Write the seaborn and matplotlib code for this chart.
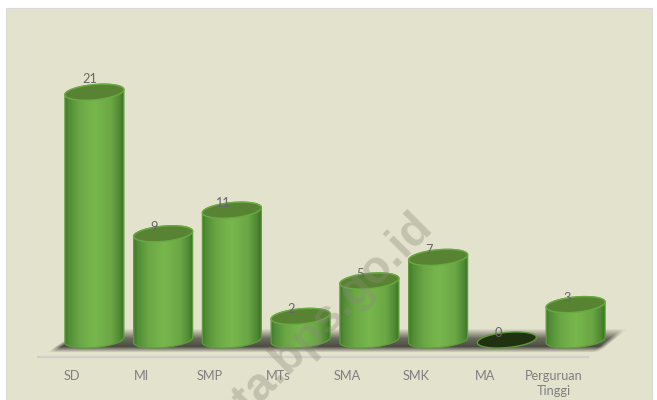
import numpy as np
import pandas as pd
import matplotlib
matplotlib.use("Agg")
import matplotlib.pyplot as plt
import seaborn as sns
from matplotlib.patches import Polygon, Rectangle
from matplotlib.colors import LinearSegmentedColormap

categories = ["SD", "MI", "SMP", "MTs", "SMA", "SMK", "MA", "Perguruan\nTinggi"]
values = [21, 9, 11, 2, 5, 7, 0, 3]

W, H = 657, 400
BG = "#e3e2cd"
PX_UNIT = 11.8
AX_L, AX_R, AX_BASE, AX_TOP = 38, 650, 357, 20
ZERO_PX = 340
ux = 68.75  # px per category
uy = PX_UNIT

sns.set_theme(style="white")
plt.rcParams["font.family"] = ["Lato", "DejaVu Sans"]

fig = plt.figure(figsize=(W / 100, H / 100), dpi=100, facecolor="white")
fig.add_artist(Rectangle((6 / W, 0), 646 / W, 1 - 8 / H, transform=fig.transFigure,
                         facecolor=BG, edgecolor="#d9d9d9", linewidth=0.8, zorder=-5))
ax = fig.add_axes([AX_L / W, 1 - AX_BASE / H, (AX_R - AX_L) / W, (AX_BASE - AX_TOP) / H])
ax.patch.set_alpha(0)

shift = 22 / ux
df = pd.DataFrame({"x": np.arange(len(values)) + shift, "v": values})
sns.barplot(data=df, x="x", y="v", native_scale=True, width=0.858, color="#70ad47",
            ax=ax, zorder=3, errorbar=None)


def set_limits():
    ax.set_xlim(-0.5, (AX_R - AX_L) / ux - 0.5)
    ax.set_ylim((ZERO_PX - AX_BASE) / PX_UNIT, (ZERO_PX - AX_TOP) / PX_UNIT)


set_limits()
ax.set_xlabel("")
ax.set_ylabel("")
ax.set_yticks([])
ax.set_xticks(range(len(categories)), categories)
ax.tick_params(axis="x", length=0, pad=9, labelsize=9.2, labelcolor="#7f7f80")
for lab in ax.get_xticklabels():
    lab.set_linespacing(1.35)
for s in ["top", "left", "right"]:
    ax.spines[s].set_visible(False)
ax.spines["bottom"].set_color("#d0d0c8")
ax.spines["bottom"].set_linewidth(1.6)
ax.spines["bottom"].set_bounds(-0.5, 7.5)


def tilted_ellipse_path(cx, v):
    t = np.linspace(0, 2 * np.pi, 120)
    a, b, r = 29.5, 7.6, np.deg2rad(5.0)
    px = a * np.cos(t)
    py = b * np.sin(t) + px * np.tan(r)
    return np.c_[cx + px / ux, v + py / uy]


cmap = LinearSegmentedColormap.from_list(
    "cyl", [(0, "#44782b"), (0.06, "#508c35"), (0.25, "#6ba745"), (0.5, "#78b74d"),
            (0.78, "#6ba745"), (0.93, "#508a34"), (1, "#3f7028")])
grad = np.linspace(0, 1, 256)[None, :]

# soft floor shadow: fades in upward from the floor and fades at both slanted ends
S_L, S_R, S_T, S_B = 40, 632, 326, 356
py_, px_ = np.mgrid[S_T:S_B, S_L:S_R].astype(float)
vert = np.interp(py_, [328, 338, 346, 352], [0.0, 0.72, 0.88, 0.0])
frac = (py_ - 333) / 16.0
left_edge = 74 - 24 * frac
right_edge = 622 - 20 * frac
horiz = np.clip((px_ - left_edge) / 7, 0, 1) * np.clip((right_edge - px_) / 7, 0, 1)
rgba = np.zeros(py_.shape + (4,))
rgba[..., :3] = np.array([0.22, 0.22, 0.19])
rgba[..., 3] = vert * horiz
to_x = lambda p: (p - AX_L) / ux - 0.5
to_y = lambda p: (ZERO_PX - p) / uy
ax.imshow(rgba, extent=(to_x(S_L), to_x(S_R), to_y(S_B), to_y(S_T)), aspect="auto", zorder=1,
          interpolation="bilinear")

for bar, v in zip(list(ax.containers[0]), values):
    cx = bar.get_x() + bar.get_width() / 2
    w = bar.get_width()
    top = tilted_ellipse_path(cx, bar.get_height())
    bot = tilted_ellipse_path(cx, 0)
    bar.set_visible(False)
    if v == 0:
        ax.add_patch(Polygon(bot, closed=True, facecolor="#203212", edgecolor="#5f9a3c", linewidth=1.0, zorder=4))
    else:
        n = len(bot)
        body = np.vstack([bot[n // 2:], top[: n // 2]])
        clip = Polygon(body, closed=True, transform=ax.transData, facecolor="none", edgecolor="none")
        ax.add_patch(clip)
        img = ax.imshow(grad, cmap=cmap, extent=(cx - w / 2, cx + w / 2, -1, v + 1), aspect="auto", zorder=4)
        img.set_clip_path(clip)
        ax.add_patch(Polygon(body, closed=True, facecolor="none", edgecolor="#5f9e3b", linewidth=0.9, zorder=5))
        ax.add_patch(Polygon(top, closed=True, facecolor="#578332", edgecolor="#6aaa43", linewidth=1.0, zorder=6))
    dx, dy = (-5, 13.5) if v == max(values) else (-9, 7.0)
    ax.text(cx + dx / ux, v + dy / uy, str(v), ha="center", va="center", fontsize=9.2,
            color="#666667", zorder=8)
set_limits()

fig.text(314 / W, 1 - 331 / H, "kota.bps.go.id", rotation=45, ha="center", va="center",
         fontsize=33.5, fontweight="bold", color="#8a8a78", alpha=0.36, family="Liberation Sans", zorder=10)

fig.savefig("out.png", dpi=100, facecolor="white")
